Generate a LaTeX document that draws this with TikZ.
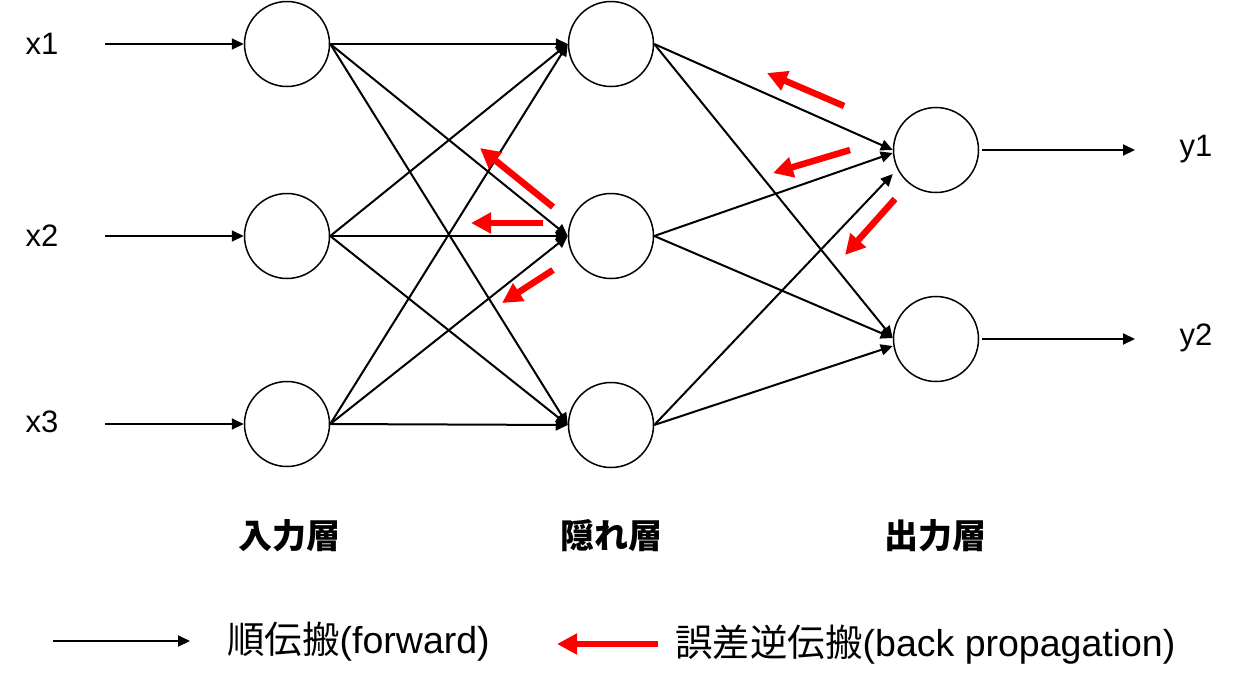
\documentclass[tikz,border=0pt]{standalone}
\usepackage{fontspec}
\setmainfont{Liberation Sans}
\newfontfamily\jp{Noto Sans CJK JP}
\usetikzlibrary{arrows.meta}
\begin{document}
\begin{tikzpicture}[x=1pt,y=-1pt,
 neuron/.style={circle,draw,line width=1.5pt,minimum size=85pt,inner sep=0pt},
 fwd/.style={line width=2pt,-{Triangle[length=12pt,width=11pt]}},
 bwd/.style={draw=red,line width=6.5pt,-{Triangle[length=20pt,width=20pt,fill=red]}},
 lbl/.style={font=\fontsize{31}{33}\selectfont},
 layer/.style={font=\jp\bfseries\fontsize{34}{36}\selectfont},
 leg/.style={font=\fontsize{37.5}{40}\selectfont,anchor=west,inner sep=0pt}]
\useasboundingbox (0,0) rectangle (1245,691);
% neurons
\node[neuron] (in1) at (287,44) {};
\node[neuron] (in2) at (287,236) {};
\node[neuron] (in3) at (287,424) {};
\node[neuron] (h1) at (611,44) {};
\node[neuron] (h2) at (611,236) {};
\node[neuron] (h3) at (611,425) {};
\node[neuron] (o1) at (936,150) {};
\node[neuron] (o2) at (936,339) {};
% input labels
\node[lbl] (lx1) at (42,44) {x1};
\node[lbl] (lx2) at (42,236) {x2};
\node[lbl] (lx3) at (42,422) {x3};
\node[lbl] (ly1) at (1196,149) {y1};
\node[lbl] (ly2) at (1196,338) {y2};
% input arrows
\coordinate (s1) at (105,44);
\coordinate (s2) at (105,236);
\coordinate (s3) at (105,424);
\foreach \i in {1,2,3} \draw[fwd] (s\i) -- (in\i.west);
% input -> hidden
\foreach \i in {1,2,3}
  \foreach \j in {1,2,3}
    \draw[fwd] (in\i.east) -- (h\j.west);
% hidden -> output
\draw[fwd] (h1.east) -- (o1.west);
\draw[fwd] (h2.east) -- ([yshift=-3pt]o1.west);
\draw[fwd] (h3.east) -- ([yshift=-24pt]o1.west);
\draw[fwd] (h1.east) -- ([yshift=1pt]o2.west);
\draw[fwd] (h2.east) -- ([yshift=1pt]o2.west);
\draw[fwd] (h3.east) -- ([yshift=-7pt]o2.west);
% output arrows
\coordinate (e1) at (1135,150);
\coordinate (e2) at (1135,339);
\draw[fwd] ([xshift=3pt]o1.east) -- (e1);
\draw[fwd] ([xshift=3pt]o2.east) -- (e2);
% back propagation arrows
\coordinate (ra1) at (553,207); \coordinate (rb1) at (480,148);
\coordinate (ra2) at (543,223); \coordinate (rb2) at (471,223);
\coordinate (ra3) at (553,270); \coordinate (rb3) at (502,303);
\coordinate (ra4) at (844,106); \coordinate (rb4) at (767,73);
\coordinate (ra5) at (850,150); \coordinate (rb5) at (773,173);
\coordinate (ra6) at (895,199); \coordinate (rb6) at (845,255);
\foreach \k in {1,...,6} \draw[bwd] (ra\k) -- (rb\k);
% layer labels
\node[layer] (L1) at (289,536) {入力層};
\node[layer] (L2) at (611,536) {隠れ層};
\node[layer] (L3) at (935,536) {出力層};
% legend
\coordinate (fa) at (53,641); \coordinate (fb) at (190,641);
\draw[fwd] (fa) -- (fb);
\node[leg] (fl) at (227,642) {{\jp 順伝搬}(forward)};
\coordinate (ba) at (658,644); \coordinate (bb) at (557,644);
\draw[bwd] (ba) -- (bb);
\node[leg] (bl) at (675,645) {{\jp 誤差逆伝搬}(back propagation)};
\end{tikzpicture}
\end{document}
